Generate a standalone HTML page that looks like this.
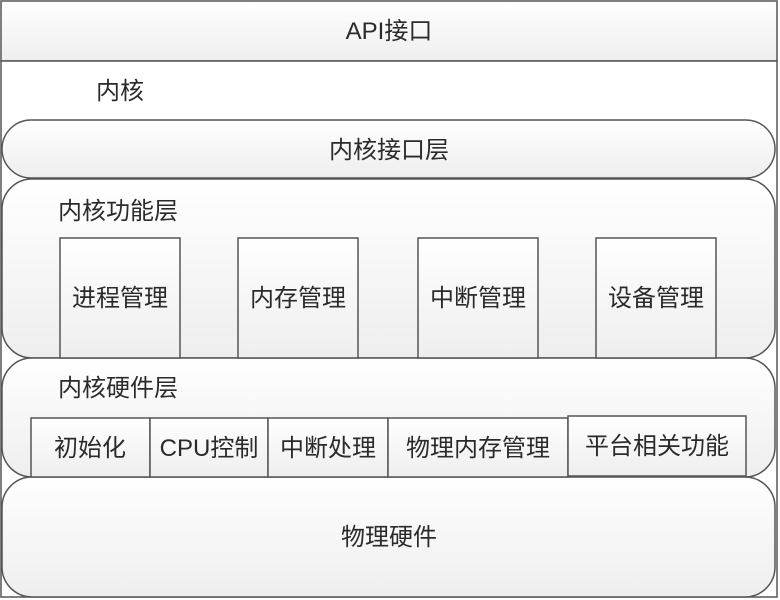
<!DOCTYPE html>
<html><head><meta charset="utf-8"><style>
html,body{margin:0;padding:0;background:#fff;}
svg{display:block;}
text{font-family:"Liberation Sans","Noto Sans CJK SC",sans-serif;fill:#2a2a2a;font-size:24px;}
</style></head><body>
<svg width="780" height="600" viewBox="0 0 780 600" xmlns="http://www.w3.org/2000/svg">
<defs>
<linearGradient id="g" x1="0" y1="0" x2="0" y2="1"><stop offset="0" stop-color="#ffffff"/><stop offset="1" stop-color="#eeeeee"/></linearGradient>
</defs>
<g stroke="#555" stroke-width="1.5">
<rect x="1" y="1" width="776" height="60" fill="url(#g)"/>
<rect x="1" y="61" width="776" height="536" fill="#fff"/>
<rect x="2" y="120" width="773" height="58" rx="29" fill="url(#g)"/>
<rect x="2" y="179" width="773" height="179" rx="30" fill="url(#g)"/>
<rect x="2" y="358" width="773" height="119" rx="30" fill="url(#g)"/>
<rect x="2" y="477" width="773" height="120" rx="30" fill="url(#g)"/>
<rect x="60" y="238" width="120" height="120" fill="url(#g)"/>
<rect x="238" y="238" width="120" height="120" fill="url(#g)"/>
<rect x="418" y="238" width="120" height="120" fill="url(#g)"/>
<rect x="596" y="238" width="120" height="120" fill="url(#g)"/>
<rect x="31" y="418" width="119" height="59" fill="url(#g)"/>
<rect x="150" y="418" width="118" height="59" fill="url(#g)"/>
<rect x="268" y="418" width="120" height="59" fill="url(#g)"/>
<rect x="388" y="418" width="180" height="59" fill="url(#g)"/>
<rect x="568" y="416" width="178" height="60" fill="url(#g)"/>
</g>
<text x="389" y="39" text-anchor="middle">API接口</text>
<text x="96" y="99">内核</text>
<text x="389" y="158" text-anchor="middle">内核接口层</text>
<text x="58" y="219">内核功能层</text>
<text x="120" y="306" text-anchor="middle">进程管理</text>
<text x="298" y="306" text-anchor="middle">内存管理</text>
<text x="478" y="306" text-anchor="middle">中断管理</text>
<text x="656" y="306" text-anchor="middle">设备管理</text>
<text x="58" y="396">内核硬件层</text>
<text x="90" y="456" text-anchor="middle">初始化</text>
<text x="209" y="456" text-anchor="middle">CPU控制</text>
<text x="328" y="456" text-anchor="middle">中断处理</text>
<text x="478" y="456" text-anchor="middle">物理内存管理</text>
<text x="657" y="454" text-anchor="middle">平台相关功能</text>
<text x="389" y="545" text-anchor="middle">物理硬件</text>
</svg>
</body></html>
